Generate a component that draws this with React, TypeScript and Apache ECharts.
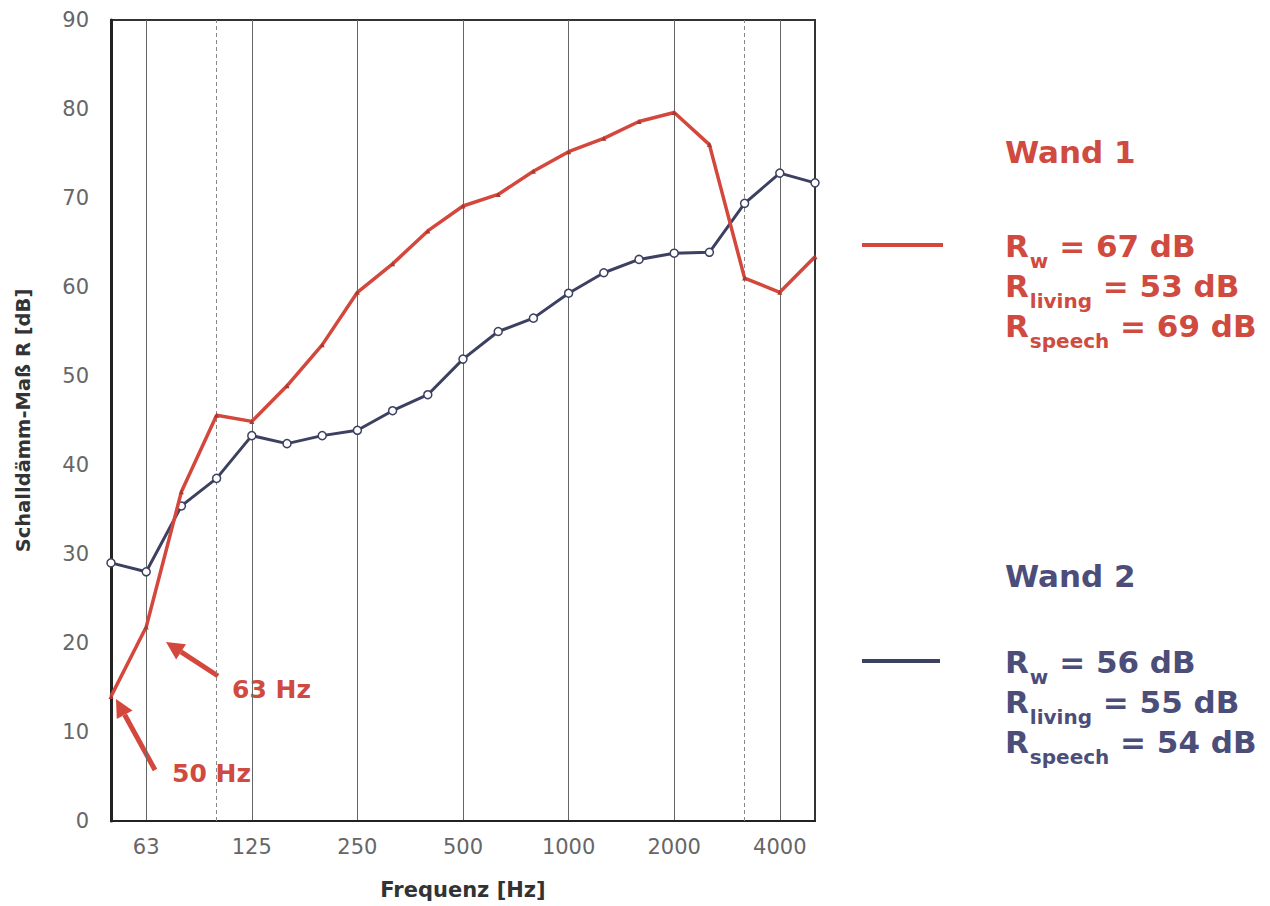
import React, { useEffect, useRef } from "react";
import * as echarts from "echarts";

const frequencies = ["50", "63", "80", "100", "125", "160", "200", "250", "315", "400", "500", "630", "800", "1000", "1250", "1600", "2000", "2500", "3150", "4000", "5000"];
const labeledFrequencies = ["63", "125", "250", "500", "1000", "2000", "4000"];
const dashedFrequencies = ["100", "3150"];
const wand1 = [14, 21.8, 37, 45.6, 44.9, 48.9, 53.5, 59.4, 62.6, 66.3, 69.1, 70.4, 73.0, 75.2, 76.7, 78.6, 79.6, 76.0, 61.0, 59.4, 63.4];
const wand2 = [29, 28, 35.4, 38.5, 43.3, 42.4, 43.3, 43.9, 46.1, 47.9, 51.9, 55.0, 56.5, 59.3, 61.6, 63.1, 63.8, 63.9, 69.4, 72.8, 71.7];
const wand1Values = { Rw: "67", living: "53", speech: "69" };
const wand2Values = { Rw: "56", living: "55", speech: "54" };

const RED = "#d4473c";
const RED_TEXT = "#cf4a3f";
const BLUE = "#3c4061";
const BLUE_TEXT = "#4c4e7a";
const FONT = "DejaVu Sans";
const MAIN_SIZE = 31;
const SUB_SIZE = 20;

function measure(text: string, size: number) {
  const c = document.createElement("canvas").getContext("2d");
  if (!c) return text.length * size * 0.7;
  c.font = `bold ${size}px "${FONT}"`;
  return c.measureText(text).width;
}

function arrow(x1: number, y1: number, x2: number, y2: number, color: string) {
  const ang = Math.atan2(y2 - y1, x2 - x1);
  const headLen = 18;
  const headW = 9;
  const bx = x2 - headLen * Math.cos(ang);
  const by = y2 - headLen * Math.sin(ang);
  const px = -Math.sin(ang);
  const py = Math.cos(ang);
  return [
    {
      type: "line",
      shape: { x1, y1, x2: bx, y2: by },
      style: { stroke: color, lineWidth: 5 },
    },
    {
      type: "polygon",
      shape: {
        points: [
          [x2, y2],
          [bx + px * headW, by + py * headW],
          [bx - px * headW, by - py * headW],
        ],
      },
      style: { fill: color },
    },
  ];
}

function rLines(x: number, y0: number, gap: number, color: string, v: { Rw: string; living: string; speech: string }) {
  const items = [
    { sub: "w", val: v.Rw },
    { sub: "living", val: v.living },
    { sub: "speech", val: v.speech },
  ];
  const rW = measure("R", MAIN_SIZE);
  const out: any[] = [];
  items.forEach((it, i) => {
    const y = y0 + i * gap;
    const subW = measure(it.sub, SUB_SIZE);
    const base = { fontFamily: FONT, fontWeight: "bold", fill: color, verticalAlign: "middle", textVerticalAlign: "middle" };
    out.push({ type: "text", x, y, style: { ...base, text: "R", fontSize: MAIN_SIZE } });
    out.push({ type: "text", x: x + rW + 1, y: y + 15, style: { ...base, text: it.sub, fontSize: SUB_SIZE } });
    out.push({ type: "text", x: x + rW + 1 + subW, y, style: { ...base, text: ` = ${it.val} dB`, fontSize: MAIN_SIZE } });
  });
  return out;
}

export default function App() {
  const ref = useRef<HTMLDivElement>(null);
  useEffect(() => {
    if (!ref.current) return;
    const chart = echarts.init(ref.current, undefined, { renderer: "svg" });
    const showLabel = (_i: number, v: string) => labeledFrequencies.includes(v);
    const option: any = {
      animation: false,
      backgroundColor: "#ffffff",
      grid: { left: 111, top: 20, right: 455, bottom: 85, show: true, borderColor: "#333", borderWidth: 2 },
      xAxis: {
        type: "category",
        data: frequencies,
        boundaryGap: false,
        name: "Frequenz [Hz]",
        nameLocation: "middle",
        nameGap: 58,
        nameTextStyle: { fontFamily: FONT, fontWeight: "bold", fontSize: 21, color: "#333" },
        axisLine: { show: true, lineStyle: { color: "#222", width: 2 } },
        axisTick: { show: false },
        axisLabel: { interval: showLabel, color: "#666", fontFamily: FONT, fontSize: 21, margin: 15 },
        splitLine: { show: true, interval: showLabel, lineStyle: { color: "#666", width: 1 } },
      },
      yAxis: {
        type: "value",
        min: 0,
        max: 90,
        interval: 10,
        name: "Schalldämm-Maß R [dB]",
        nameLocation: "middle",
        nameRotate: 90,
        nameGap: 78,
        nameTextStyle: { fontFamily: FONT, fontWeight: "bold", fontSize: 19.5, color: "#333" },
        axisLine: { show: true, lineStyle: { color: "#222", width: 3 } },
        axisTick: { show: false },
        axisLabel: { color: "#666", fontFamily: FONT, fontSize: 21, margin: 22 },
        splitLine: { show: false },
      },
      series: [
        {
          name: "Wand 2",
          type: "line",
          data: wand2,
          symbol: "circle",
          symbolSize: 8,
          lineStyle: { color: BLUE, width: 3 },
          itemStyle: { color: "#ffffff", borderColor: BLUE, borderWidth: 1.5 },
          z: 3,
          markLine: {
            silent: true,
            symbol: "none",
            label: { show: false },
            lineStyle: { color: "#888", type: [4, 3], width: 1 },
            data: dashedFrequencies.map((f) => ({ xAxis: frequencies.indexOf(f) })),
            z: 1,
          },
        },
        {
          name: "Wand 1",
          type: "line",
          data: wand1,
          symbol: "triangle",
          symbolSize: 5,
          lineStyle: { color: RED, width: 3.5 },
          itemStyle: { color: "#a83a32" },
          z: 4,
        },
      ],
      graphic: [
        ...arrow(218, 676, 166, 642, RED),
        ...arrow(155, 770, 116, 699, RED),
        {
          type: "text",
          x: 232,
          y: 689,
          style: { text: "63 Hz", fontFamily: FONT, fontWeight: "bold", fontSize: 25, fill: RED_TEXT, textVerticalAlign: "middle", verticalAlign: "middle" },
        },
        {
          type: "text",
          x: 172,
          y: 773,
          style: { text: "50 Hz", fontFamily: FONT, fontWeight: "bold", fontSize: 25, fill: RED_TEXT, textVerticalAlign: "middle", verticalAlign: "middle" },
        },
        {
          type: "text",
          x: 1005,
          y: 152,
          style: { text: "Wand 1", fontFamily: FONT, fontWeight: "bold", fontSize: 31, fill: RED_TEXT, textVerticalAlign: "middle", verticalAlign: "middle" },
        },
        {
          type: "line",
          shape: { x1: 862, y1: 245, x2: 943, y2: 245 },
          style: { stroke: RED, lineWidth: 4 },
        },
        ...rLines(1005, 246, 40, RED_TEXT, wand1Values),
        {
          type: "text",
          x: 1005,
          y: 576,
          style: { text: "Wand 2", fontFamily: FONT, fontWeight: "bold", fontSize: 31, fill: BLUE_TEXT, textVerticalAlign: "middle", verticalAlign: "middle" },
        },
        {
          type: "line",
          shape: { x1: 862, y1: 661, x2: 940, y2: 661 },
          style: { stroke: BLUE, lineWidth: 4 },
        },
        ...rLines(1005, 662, 40, BLUE_TEXT, wand2Values),
      ],
    };
    chart.setOption(option);
    return () => chart.dispose();
  }, []);
  return <div ref={ref} style={{ position: "fixed", left: 0, top: 0, width: 1270, height: 906, background: "#fff" }} />;
}
